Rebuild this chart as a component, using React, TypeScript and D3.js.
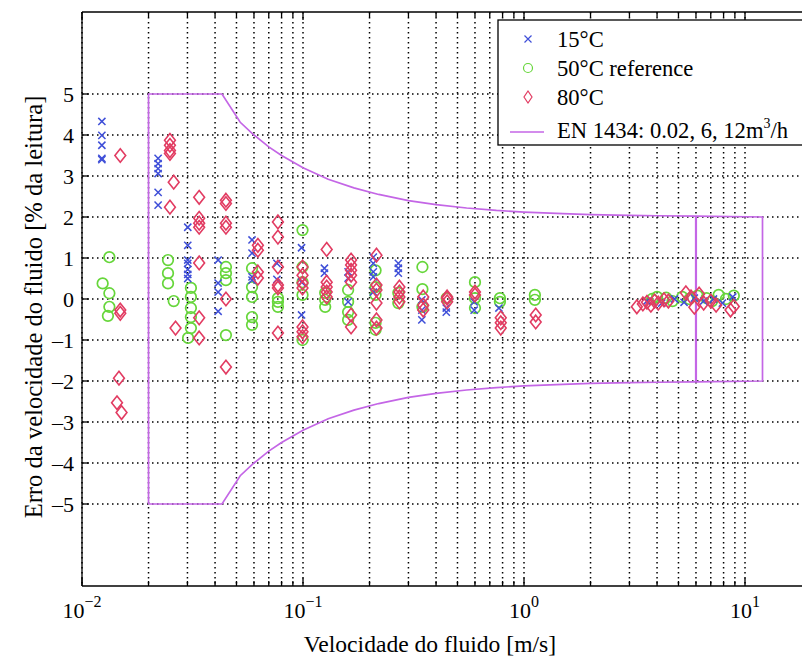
import React from "react";
import * as d3 from "d3";

// ---------- data ----------
// 15°C (crosses): [velocity m/s, error %]
const s15: [number, number][] = [
  [0.0123, 4.33], [0.0123, 3.99], [0.0123, 3.75], [0.0123, 3.43], [0.0123, 3.4],
  [0.0221, 3.43], [0.0221, 3.3], [0.0221, 3.18], [0.0221, 3.06], [0.0221, 2.6], [0.0221, 2.29],
  [0.0301, 1.75], [0.0301, 1.31], [0.0301, 0.95], [0.0301, 0.87], [0.0301, 0.72], [0.0301, 0.6], [0.0301, 0.5],
  [0.0413, 0.95], [0.0413, 0.39], [0.0413, 0.17], [0.0413, -0.3],
  [0.0588, 1.44], [0.0588, 1.12], [0.0588, 0.54], [0.0588, 0.46],
  [0.0762, 0.87], [0.0762, 0.48],
  [0.0985, 1.25], [0.0985, 0.41], [0.0985, -0.39],
  [0.125, 0.75], [0.125, 0.63],
  [0.16, 0.66], [0.16, 0.51], [0.16, -0.07],
  [0.208, 1.02], [0.208, 0.87], [0.208, 0.66], [0.208, 0.54], [0.208, 0.17],
  [0.27, 0.87], [0.27, 0.75], [0.27, 0.63],
  [0.345, -0.02], [0.345, -0.27], [0.345, -0.51],
  [0.445, -0.22], [0.445, -0.32],
  [0.595, -0.07], [0.595, -0.27],
  [0.77, -0.22],
  [3.6, -0.05], [4.2, -0.1], [4.8, 0.0], [5.3, -0.08], [5.9, 0.02], [6.5, -0.05], [7.2, 0.0], [7.9, -0.1], [8.8, 0.05],
];

// 50°C reference (circles)
const s50: [number, number][] = [
  [0.0133, 1.02], [0.0124, 0.38], [0.0133, 0.14], [0.0133, -0.19], [0.0131, -0.41],
  [0.0245, 0.95], [0.0245, 0.63], [0.0245, 0.38], [0.026, -0.05],
  [0.0311, 0.27], [0.0311, 0.05], [0.0311, -0.22], [0.0311, -0.44], [0.0311, -0.71], [0.0302, -0.95],
  [0.0448, 0.78], [0.0448, 0.63], [0.0448, 0.46], [0.0448, -0.88],
  [0.0588, 0.75], [0.0588, 0.29], [0.0588, 0.05], [0.0588, -0.44], [0.0588, -0.63],
  [0.077, 0.02], [0.077, -0.07], [0.077, -0.19],
  [0.0995, 1.68], [0.0995, 0.78], [0.0995, 0.41], [0.0995, 0.1], [0.0995, -1.0],
  [0.126, 0.15], [0.126, -0.02], [0.126, -0.19],
  [0.16, 0.22], [0.16, -0.07], [0.16, -0.32], [0.16, -0.51],
  [0.213, 0.7], [0.213, 0.29], [0.213, 0.1], [0.213, -0.58], [0.213, -0.75],
  [0.27, 0.15], [0.27, -0.1],
  [0.347, 0.78], [0.347, 0.24], [0.347, -0.19],
  [0.447, 0.02],
  [0.6, 0.41], [0.6, 0.02], [0.6, -0.22],
  [0.778, 0.02], [0.778, -0.07],
  [1.12, 0.1], [1.12, -0.02],
  [3.8, 0.0], [4.0, 0.05], [4.4, 0.03], [4.7, -0.05], [5.2, 0.05], [5.6, 0.0], [6.1, 0.08], [6.7, 0.02], [7.1, -0.05], [7.6, 0.1], [8.2, 0.0], [8.9, 0.08],
];

// 80°C (diamonds)
const s80: [number, number][] = [
  [0.0149, 3.5], [0.0149, -0.27], [0.0149, -0.35], [0.0147, -1.93], [0.0144, -2.53], [0.0151, -2.77],
  [0.025, 3.87], [0.025, 3.75], [0.025, 3.62], [0.025, 3.55], [0.026, 2.85], [0.025, 2.24], [0.0265, -0.71],
  [0.0339, 2.48], [0.0339, 1.97], [0.0339, 1.85], [0.0339, 1.75], [0.0339, 0.88], [0.0339, -0.46], [0.0339, -0.95],
  [0.0448, 2.41], [0.0448, 2.33], [0.0448, 1.85], [0.0448, 1.75], [0.0448, 0.0], [0.0448, -1.66],
  [0.0625, 1.31], [0.0625, 1.19], [0.0625, 0.66], [0.0625, 0.51],
  [0.077, 1.88], [0.077, 1.51], [0.077, 0.78], [0.077, 0.34], [0.077, 0.27], [0.077, -0.83],
  [0.0995, 0.78], [0.0995, 0.58], [0.0995, 0.39], [0.0995, 0.27], [0.0995, -0.68], [0.0995, -0.8], [0.0995, -0.92],
  [0.128, 1.21], [0.128, 0.41], [0.128, 0.29], [0.128, 0.17], [0.128, 0.05],
  [0.165, 0.95], [0.165, 0.83], [0.165, 0.7], [0.165, 0.58], [0.165, 0.41], [0.165, -0.39], [0.165, -0.68],
  [0.215, 1.07], [0.215, 0.34], [0.215, 0.22], [0.215, -0.1], [0.215, -0.51], [0.215, -0.71],
  [0.273, 0.29], [0.273, 0.17], [0.273, 0.05], [0.273, -0.07],
  [0.35, 0.05], [0.35, -0.15], [0.35, -0.27],
  [0.449, 0.05], [0.449, 0.02], [0.449, -0.07],
  [0.6, 0.17], [0.6, 0.1],
  [0.785, -0.46], [0.785, -0.58], [0.785, -0.71],
  [1.13, -0.39], [1.13, -0.56],
  [3.24, -0.19], [3.45, -0.12], [3.6, -0.08], [3.75, -0.15], [3.9, -0.05], [4.05, -0.1], [4.3, -0.02], [4.5, -0.05],
  [5.4, 0.15], [5.7, 0.05], [5.9, -0.2], [6.2, 0.12], [6.5, -0.1], [7.0, -0.05], [7.4, -0.15], [8.6, -0.27], [8.9, -0.18],
];

// EN 1434 limit envelope (upper branch)
const envV = [0.02, 0.043, 0.052, 0.06, 0.07, 0.08, 0.1, 0.13, 0.17, 0.22, 0.3, 0.4, 0.55, 0.75, 1, 1.5, 2, 3, 4, 6];
const envE = [5, 5, 4.31, 4.0, 3.71, 3.5, 3.2, 2.92, 2.71, 2.55, 2.4, 2.3, 2.22, 2.16, 2.12, 2.08, 2.06, 2.04, 2.03, 2.02];
const qp = 6;
const qs = 12;
const qsLimit = 2;

const yTicks = [-5, -4, -3, -2, -1, 0, 1, 2, 3, 4, 5];
const xDecades = [-2, -1, 0, 1];

const legendItems = ["15°C", "50°C reference", "80°C"];

// ---------- layout ----------
const W = 802;
const H = 659;
const left = 82;
const top = 12;
const bottom = 586;
const right = W + 2;

const x = d3.scaleLog().domain([0.01, 10]).range([left, 745]);
const y = d3.scaleLinear().domain([-7, 7]).range([bottom, top]);

const C15 = "#3f4fd8";
const C50 = "#66d63a";
const C80 = "#e23c62";
const CENV = "#c466e6";

const font = "'Liberation Serif', 'Times New Roman', Times, serif";

function minorTicks(): number[] {
  const t: number[] = [];
  for (let d = -2; d <= 1; d++) {
    for (let m = 1; m <= 9; m++) {
      const v = m * Math.pow(10, d);
      if (x(v) <= W) t.push(v);
    }
  }
  return t;
}

export default function App() {
  const xt = minorTicks();
  const line = d3
    .line<[number, number]>()
    .x((d) => x(d[0]))
    .y((d) => y(d[1]));

  const upper: [number, number][] = envV.map((v, i) => [v, envE[i]]);
  const lower: [number, number][] = envV.map((v, i) => [v, -envE[i]]);
  const envPath: [number, number][] = [
    [envV[0], -envE[0]],
    ...upper,
    [qs, qsLimit],
    [qs, -qsLimit],
    ...lower.slice().reverse(),
  ];

  return (
    <div style={{ position: "absolute", left: 0, top: 0, width: W, height: H, overflow: "hidden" }}>
      <svg width={W} height={H} style={{ display: "block", background: "#fff" }}>
        <rect x={0} y={0} width={W} height={H} fill="#fff" />
        {/* grid */}
        <g stroke="#000" strokeWidth={1.5} strokeDasharray="1.5,3.5">
          {xt.map((v, i) => (
            <line key={"gx" + i} x1={x(v)} x2={x(v)} y1={top} y2={bottom} />
          ))}
          {yTicks.map((t) => (
            <line key={"gy" + t} x1={left} x2={right} y1={y(t)} y2={y(t)} />
          ))}
        </g>
        {/* axes frame */}
        <g stroke="#000" strokeWidth={1.3} fill="none">
          <line x1={left} x2={left} y1={top} y2={bottom} />
          <line x1={left} x2={right} y1={bottom} y2={bottom} />
          <line x1={left} x2={right} y1={top} y2={top} />
          {xt.map((v, i) => {
            const major = Math.abs(Math.log10(v) - Math.round(Math.log10(v))) < 1e-9;
            const len = major ? 8 : 5;
            return (
              <g key={"tk" + i}>
                <line x1={x(v)} x2={x(v)} y1={bottom} y2={bottom - len} />
                <line x1={x(v)} x2={x(v)} y1={top} y2={top + len} />
              </g>
            );
          })}
          {yTicks.map((t) => (
            <line key={"ty" + t} x1={left} x2={left + 7} y1={y(t)} y2={y(t)} />
          ))}
        </g>
        {/* tick labels */}
        <g fontSize={22} fill="#000" fontFamily={font}>
          {yTicks.map((t) => (
            <text key={"yl" + t} x={left - 8} y={y(t)} dy="0.35em" textAnchor="end">
              {t < 0 ? "–" + Math.abs(t) : String(t)}
            </text>
          ))}
          {xDecades.map((d) => (
            <text key={"xl" + d} x={x(Math.pow(10, d))} y={618} textAnchor="middle">
              10
              <tspan dy={-11} fontSize={16}>
                {d < 0 ? "−" + Math.abs(d) : String(d)}
              </tspan>
            </text>
          ))}
        </g>
        {/* axis titles */}
        <text x={430} y={652} textAnchor="middle" fontSize={23.6} fill="#000" fontFamily={font}>
          Velocidade do fluido [m/s]
        </text>
        <text
          transform={`translate(42, 307) rotate(-90)`}
          textAnchor="middle"
          fontSize={24.6}
          fill="#000"
          fontFamily={font}
        >
          Erro da velocidade do fluido [% da leitura]
        </text>

        {/* EN 1434 envelope */}
        <g stroke={CENV} strokeWidth={1.7} fill="none">
          <path d={line(envPath) || ""} />
          <line x1={x(qp)} x2={x(qp)} y1={y(qsLimit)} y2={y(-qsLimit)} strokeWidth={2.2} />
        </g>

        {/* data */}
        <g stroke={C50} strokeWidth={1.7} fill="none">
          {s50.map((d, i) => (
            <circle key={"c" + i} cx={x(d[0])} cy={y(d[1])} r={5.3} />
          ))}
        </g>
        <g stroke={C15} strokeWidth={1.5}>
          {s15.map((d, i) => {
            const cx = x(d[0]);
            const cy = y(d[1]);
            const s = 3.6;
            return (
              <path key={"x" + i} d={`M${cx - s},${cy - s}L${cx + s},${cy + s}M${cx - s},${cy + s}L${cx + s},${cy - s}`} />
            );
          })}
        </g>
        <g stroke={C80} strokeWidth={1.6} fill="none">
          {s80.map((d, i) => {
            const cx = x(d[0]);
            const cy = y(d[1]);
            return (
              <path key={"d" + i} d={`M${cx},${cy - 6.8}L${cx + 5.4},${cy}L${cx},${cy + 6.8}L${cx - 5.4},${cy}Z`} />
            );
          })}
        </g>

        {/* legend */}
        <g>
          <rect x={498} y={20} width={330} height={125} fill="#fff" stroke="#000" strokeWidth={1.3} />
          <path d="M524.5,35.5L531.5,42.5M524.5,42.5L531.5,35.5" stroke={C15} strokeWidth={1.2} />
          <circle cx={528} cy={68} r={4.5} stroke={C50} strokeWidth={1.2} fill="none" />
          <path d="M528,91L532,97L528,103L524,97Z" stroke={C80} strokeWidth={1.2} fill="none" />
          <line x1={510} x2={544} y1={132} y2={132} stroke={CENV} strokeWidth={1.7} />
          <g fontSize={22.6} fill="#000" fontFamily={font}>
            {legendItems.map((t, i) => (
              <text key={t} x={557} y={47 + i * 29}>
                {t}
              </text>
            ))}
            <text x={557} y={138}>
              EN 1434: 0.02, 6, 12m
              <tspan dy={-10} fontSize={14}>3</tspan>
              <tspan dy={10}>/h</tspan>
            </text>
          </g>
        </g>
      </svg>
    </div>
  );
}
